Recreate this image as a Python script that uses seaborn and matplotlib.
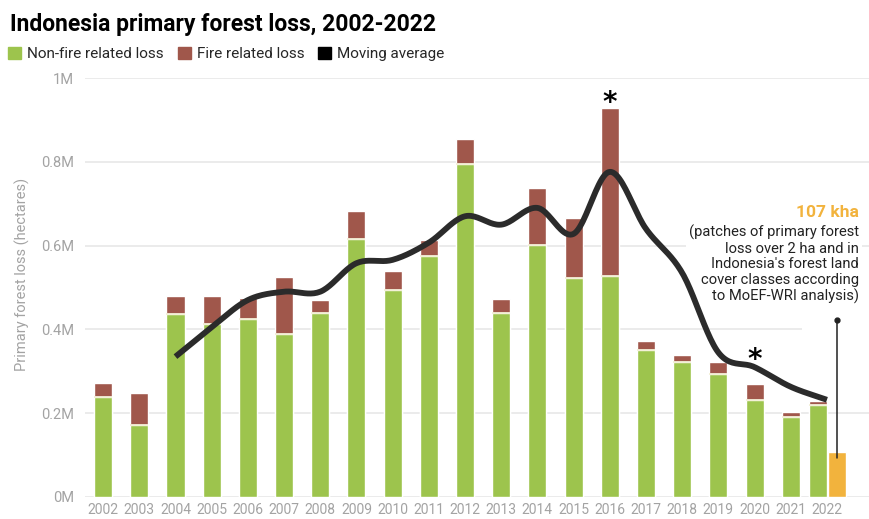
import numpy as np
import pandas as pd
import matplotlib
matplotlib.use("Agg")
import matplotlib.pyplot as plt
import seaborn as sns
from matplotlib.patches import Patch, Rectangle

# values in million hectares
years = [str(y) for y in range(2002, 2023)]
non_fire = [0.239, 0.172, 0.437, 0.413, 0.425, 0.389, 0.439, 0.616, 0.494, 0.575,
            0.795, 0.440, 0.601, 0.523, 0.527, 0.351, 0.322, 0.294, 0.232, 0.191, 0.220]
total = [0.272, 0.248, 0.480, 0.480, 0.475, 0.525, 0.470, 0.683, 0.540, 0.613,
         0.854, 0.473, 0.737, 0.666, 0.928, 0.372, 0.339, 0.322, 0.270, 0.203, 0.229]
ma_years = [str(y) for y in range(2004, 2023)]
moving_avg = [0.335, 0.405, 0.470, 0.490, 0.490, 0.558, 0.566, 0.607, 0.670, 0.650,
              0.690, 0.628, 0.776, 0.640, 0.535, 0.345, 0.310, 0.263, 0.232]
moef_2022 = 0.107
ytick_vals = [0, 0.2, 0.4, 0.6, 0.8, 1.0]
ytick_labels = ["0M", "0.2M", "0.4M", "0.6M", "0.8M", "1M"]
star_years = ["2016", "2020"]
star_y = [0.940, 0.328]

GREEN = "#9dc44d"
BROWN = "#a0574b"
YELLOW = "#f2b33d"
LINE = "#2b2b2b"
GREY = "#a3a3a3"

sns.set_theme(style="white")
plt.rcParams["font.family"] = ["Roboto", "DejaVu Sans"]

df = pd.DataFrame({"year": years, "non_fire": non_fire, "total": total})
df["pos"] = np.arange(len(df), dtype=float)
df.loc[df.year == "2022", "pos"] -= 0.24  # dodged next to the MoEF bar

fig = plt.figure(figsize=(8.7, 5.19), dpi=100)
ax = fig.add_axes([85 / 870, 22 / 519, 785 / 870, 419 / 519])

bw = 0.5
ax.bar(df.pos, df.total, width=bw, color=BROWN, zorder=2)
ax.bar(df.pos, df.non_fire, width=bw, color=GREEN, zorder=2)
ax.hlines(df.non_fire, df.pos - bw / 2, df.pos + bw / 2, color="#f3efd6", lw=1.3, zorder=2.5)
x22 = years.index("2022") + 0.29
ax.bar([x22], [moef_2022], width=bw, color=YELLOW, zorder=2)


def catmull(x, y, n=24):
    x = np.asarray(x, float)
    y = np.asarray(y, float)
    px = np.r_[2 * x[0] - x[1], x, 2 * x[-1] - x[-2]]
    py = np.r_[2 * y[0] - y[1], y, 2 * y[-1] - y[-2]]
    t = np.linspace(0, 1, n)[:, None]
    out_x, out_y = [], []
    for i in range(1, len(px) - 2):
        for p, out in ((px, out_x), (py, out_y)):
            p0, p1, p2, p3 = p[i - 1], p[i], p[i + 1], p[i + 2]
            seg = 0.5 * ((2 * p1) + (-p0 + p2) * t + (2 * p0 - 5 * p1 + 4 * p2 - p3) * t ** 2
                         + (-p0 + 3 * p1 - 3 * p2 + p3) * t ** 3)
            out.append(seg.ravel())
    return np.concatenate(out_x), np.concatenate(out_y)


mx = [years.index(y) for y in ma_years]
sx, sy = catmull(mx, moving_avg)
sns.lineplot(x=sx, y=sy, ax=ax, color=LINE, lw=4.2, sort=False, zorder=4,
             solid_capstyle="butt")

for yr, yy in zip(star_years, star_y):
    ax.text(years.index(yr), yy, "*", ha="center", va="center", fontsize=20,
            fontweight="bold", color="black", family="DejaVu Sans", zorder=5)

# annotation for the 2022 MoEF-WRI bar
ax.add_patch(Rectangle((19.3, 0.37), 2.0, 0.12, color="white", zorder=0.8, lw=0))
ax.plot([x22, x22], [0.092, 0.422], color="#222222", lw=1.1, zorder=5)
ax.plot([x22], [0.422], "o", color="#222222", ms=3.5, zorder=5)
ax.text(20.88, 0.678, "107 kha", ha="right", va="center", fontsize=12.5,
        fontweight="bold", color=YELLOW, zorder=3)
ax.text(20.88, 0.555, "(patches of primary forest\nloss over 2 ha and in\n"
        "Indonesia's forest land\ncover classes according\nto MoEF-WRI analysis)",
        ha="right", va="center", fontsize=10.6, color="#222222", linespacing=1.15,
        zorder=3, bbox=dict(facecolor="white", edgecolor="none", pad=2))

ax.set_xlim(-0.5, 21.19)
ax.set_ylim(0, 1.0)
ax.set_xticks(range(len(years)))
ax.set_xticklabels(years)
ax.set_yticks(ytick_vals)
ax.set_yticklabels(ytick_labels)
ax.tick_params(axis="x", colors=GREY, labelsize=10, length=0, pad=4)
ax.tick_params(axis="y", colors=GREY, labelsize=10.5, length=0, pad=8)
ax.yaxis.grid(True, color="#e8e8e8", lw=1.2)
ax.set_axisbelow(True)
sns.despine(ax=ax, left=True, bottom=True, top=True, right=True)
ax.set_xlabel("")
ax.set_ylabel("")

fig.text(22 / 870, 1 - 274 / 519, "Primary forest loss (hectares)", rotation=90,
         ha="center", va="center", fontsize=10.5, color=GREY)
fig.text(10 / 870, 1 - 31 / 519, "Indonesia primary forest loss, 2002-2022",
         ha="left", va="baseline", fontsize=16.5, fontweight="bold", color="black")

handles = [Patch(color=GREEN, label="Non-fire related loss"),
           Patch(color=BROWN, label="Fire related loss"),
           Patch(color="black", label="Moving average")]
fig.legend(handles=handles, loc="center left", bbox_to_anchor=(2 / 870, 1 - 54 / 519),
           ncol=3, frameon=False, fontsize=11, handlelength=0.85, handleheight=0.85,
           handletextpad=0.4, columnspacing=0.9, borderaxespad=0)

fig.savefig("out.png", dpi=100, facecolor="white")
